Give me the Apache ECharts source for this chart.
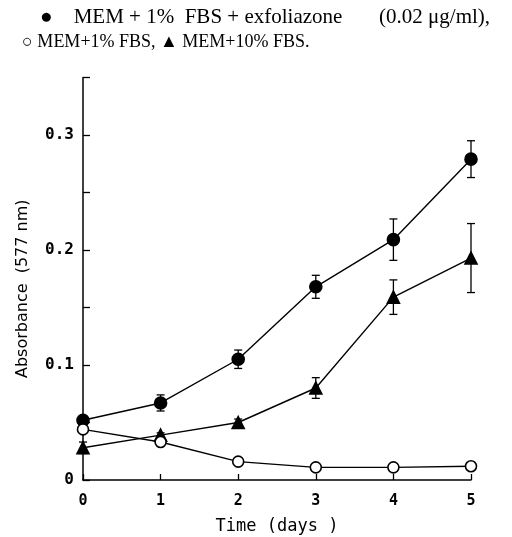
<!DOCTYPE html>
<html>
<head>
<meta charset="utf-8">
<script src="https://cdn.jsdelivr.net/npm/echarts@6/dist/echarts.min.js"></script>
<style>html,body{margin:0;padding:0;background:#fff;overflow:hidden;}#c{width:512px;height:537px;}</style>
</head>
<body>
<div id="c"></div>
<script>
var days = [0, 1, 2, 3, 4, 5];
var xTicks = ['0', '1', '2', '3', '4', '5'];
var yTicks = [0, 0.1, 0.2, 0.3];
var exfoMean = [0.052, 0.067, 0.105, 0.168, 0.209, 0.279];
var exfoErr  = [0.004, 0.007, 0.008, 0.010, 0.018, 0.016];
var fbs1Mean = [0.044, 0.033, 0.016, 0.011, 0.011, 0.012];
var fbs1Err  = [0.003, 0.003, 0.003, 0.002, 0.002, 0.002];
var fbs10Mean = [0.028, 0.039, 0.050, 0.080, 0.159, 0.193];
var fbs10Err  = [0.005, 0.002, 0.003, 0.009, 0.015, 0.030];
var captionLine1 = '\u25CF    MEM + 1%  FBS + exfoliazone       (0.02 \u03BCg/ml),';
var captionLine2 = '\u25CB MEM+1% FBS, \u25B2 MEM+10% FBS.';
var xName = 'Time (days )';
var yName = 'Absorbance  (577 nm)';

function pts(m) { return days.map(function (d, i) { return [d, m[i]]; }); }
function errs(m, e) { return days.map(function (d, i) { return [d, m[i] - e[i], m[i] + e[i]]; }); }

function errSeries(m, e) {
  return {
    type: 'custom',
    data: errs(m, e),
    z: 1,
    renderItem: function (params, api) {
      var x = api.value(0);
      var lo = api.coord([x, api.value(1)]);
      var hi = api.coord([x, api.value(2)]);
      var w = 4;
      var st = { stroke: '#000', lineWidth: 1.3 };
      return {
        type: 'group',
        children: [
          { type: 'line', shape: { x1: lo[0], y1: lo[1], x2: hi[0], y2: hi[1] }, style: st },
          { type: 'line', shape: { x1: lo[0] - w, y1: lo[1], x2: lo[0] + w, y2: lo[1] }, style: st },
          { type: 'line', shape: { x1: hi[0] - w, y1: hi[1], x2: hi[0] + w, y2: hi[1] }, style: st }
        ]
      };
    }
  };
}

function lineSeries(m, sym, fill, size) {
  return {
    type: 'line',
    data: pts(m),
    symbol: sym,
    symbolSize: size,
    showAllSymbol: true,
    z: 3,
    lineStyle: { color: '#000', width: 1.4 },
    itemStyle: { color: fill, borderColor: '#000', borderWidth: 1.6 },
    emphasis: { disabled: true },
    animation: false
  };
}

var chart = echarts.init(document.getElementById('c'));
chart.setOption({
  animation: false,
  backgroundColor: '#fff',
  title: [
    { text: captionLine1, left: 40, top: 7, padding: 0,
      textStyle: { fontFamily: 'Liberation Serif', fontSize: 21, fontWeight: 'normal', color: '#000' } },
    { text: captionLine2, left: 22, top: 33, padding: 0,
      textStyle: { fontFamily: 'Liberation Serif', fontSize: 18, fontWeight: 'normal', color: '#000' } }
  ],
  grid: { left: 83, right: 41, top: 77.5, bottom: 57, containLabel: false, outerBoundsMode: 'none' },
  xAxis: {
    type: 'value', min: 0, max: 5, interval: 1,
    name: xName, nameLocation: 'middle', nameGap: 38,
    nameTextStyle: { fontFamily: 'DejaVu Sans Mono', fontSize: 17, color: '#000' },
    axisLine: { lineStyle: { color: '#000', width: 1.5 } },
    axisTick: { inside: true, length: 6, lineStyle: { color: '#000', width: 1.3 } },
    axisLabel: { margin: 14, fontFamily: 'DejaVu Sans Mono', fontWeight: 'bold', fontSize: 15, color: '#000',
      formatter: function (v) { return xTicks[Math.round(v)]; } },
    splitLine: { show: false }
  },
  yAxis: {
    type: 'value', min: 0, max: 0.35, interval: 0.05,
    name: yName, nameLocation: 'middle', nameGap: 52, nameRotate: 90,
    nameTextStyle: { fontFamily: 'DejaVu Sans', fontSize: 16, color: '#000', padding: [0, 20, 0, 0] },
    axisLine: { lineStyle: { color: '#000', width: 1.5 } },
    axisTick: { inside: true, length: 7, lineStyle: { color: '#000', width: 1.3 } },
    axisLabel: { margin: 9, fontFamily: 'DejaVu Sans Mono', fontWeight: 'bold', fontSize: 16, color: '#000',
      formatter: function (v) {
        for (var i = 0; i < yTicks.length; i++) {
          if (Math.abs(v - yTicks[i]) < 1e-6) return yTicks[i] === 0 ? '0' : yTicks[i].toFixed(1);
        }
        return '';
      } },
    splitLine: { show: false }
  },
  series: [
    errSeries(exfoMean, exfoErr),
    errSeries(fbs10Mean, fbs10Err),
    errSeries(fbs1Mean, fbs1Err),
    lineSeries(exfoMean, 'circle', '#000', 12),
    lineSeries(fbs10Mean, 'triangle', '#000', 12),
    lineSeries(fbs1Mean, 'circle', '#fff', 11)
  ]
});
</script>
</body>
</html>
